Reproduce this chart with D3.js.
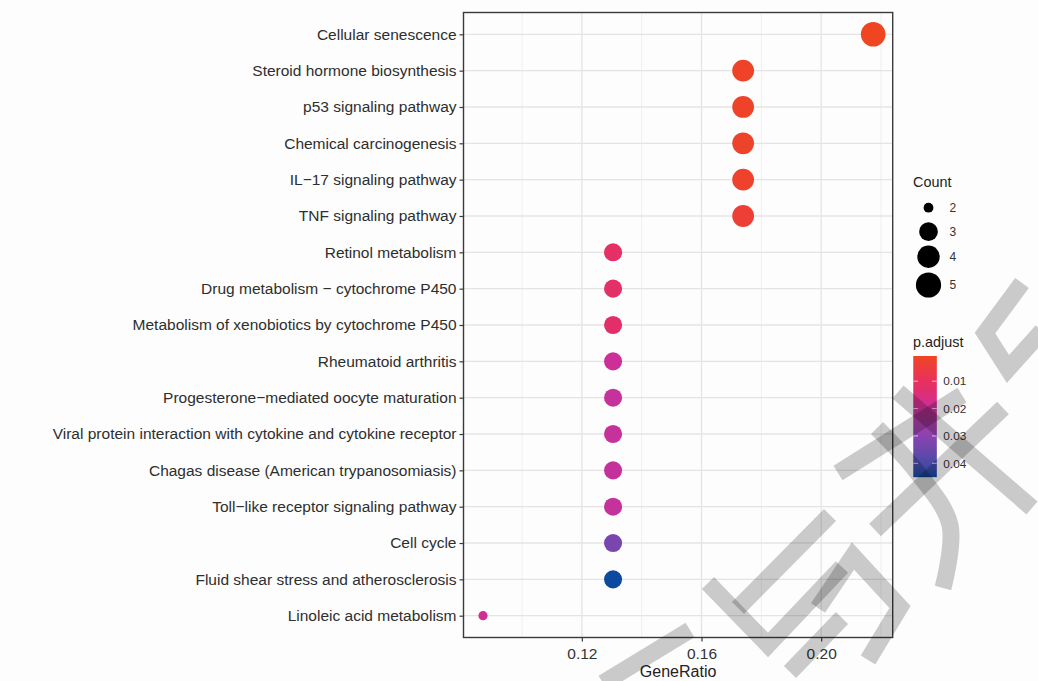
<!DOCTYPE html>
<html>
<head>
<meta charset="utf-8">
<script src="https://cdn.jsdelivr.net/npm/d3@7"></script>
<style>
  body { margin: 0; background: #fdfdfd; }
  svg { display: block; }
  text { font-family: "Liberation Sans", Arial, Helvetica, sans-serif; }
</style>
</head>
<body>
<svg id="chart" width="1038" height="681"></svg>
<script>
// KEGG enrichment results (top to bottom)
const pathways = [
  "Cellular senescence",
  "Steroid hormone biosynthesis",
  "p53 signaling pathway",
  "Chemical carcinogenesis",
  "IL\u221217 signaling pathway",
  "TNF signaling pathway",
  "Retinol metabolism",
  "Drug metabolism \u2212 cytochrome P450",
  "Metabolism of xenobiotics by cytochrome P450",
  "Rheumatoid arthritis",
  "Progesterone\u2212mediated oocyte maturation",
  "Viral protein interaction with cytokine and cytokine receptor",
  "Chagas disease (American trypanosomiasis)",
  "Toll\u2212like receptor signaling pathway",
  "Cell cycle",
  "Fluid shear stress and atherosclerosis",
  "Linoleic acid metabolism"
];
const geneCounts = [5, 4, 4, 4, 4, 4, 3, 3, 3, 3, 3, 3, 3, 3, 3, 3, 2];
const geneListSize = 23;
const pAdjust = [0.0008, 0.0018, 0.0018, 0.0020, 0.0022, 0.0035,
                 0.0115, 0.0118, 0.0122, 0.0195, 0.0205, 0.0205,
                 0.0208, 0.0210, 0.0330, 0.0450, 0.0185];

const xTickValues = [0.12, 0.16, 0.20];
const xMinorValues = [0.10, 0.14, 0.18, 0.22];
const countLegendValues = [2, 3, 4, 5];
const countLegendOffsets = [0, 24, 49, 77.3];
const pTickValues = [0.01, 0.02, 0.03, 0.04];

const geneRatio = geneCounts.map(c => c / geneListSize);
const rows = pathways.map((name, i) => ({
  name, count: geneCounts[i], ratio: geneRatio[i], p: pAdjust[i]
}));

const svg = d3.select("#chart");
const W = 1038, H = 681;
svg.append("rect").attr("width", W).attr("height", H).attr("fill", "#fdfdfd");

// panel geometry
const panel = { left: 463.5, right: 892.7, top: 12.5, bottom: 637.5 };

// x scale with 5% expansion on each side
const [rMin, rMax] = d3.extent(geneRatio);
const pad = (rMax - rMin) * 0.05;
const x = d3.scaleLinear().domain([rMin - pad, rMax + pad]).range([panel.left, panel.right]);
const y = d3.scalePoint().domain(pathways).range([panel.top, panel.bottom]).padding(0.6);

// size: diameter linear in sqrt of rescaled count
const [cMin, cMax] = d3.extent(geneCounts);
const radius = d3.scaleLinear().domain([0, 1]).range([4.6, 12.3]);
const rOf = c => radius(Math.sqrt((c - cMin) / (cMax - cMin)));

// colour: low p.adjust red, high p.adjust blue
const [pMin, pMax] = d3.extent(pAdjust);
const color = d3.scaleLinear()
  .domain([pMin, 0.01, 0.02, 0.03, pMax])
  .range(["#ef4521", "#e8305c", "#ca2f9a", "#8a43b0", "#0c4aa0"])
  .interpolate(d3.interpolateLab)
  .clamp(true);

// panel background and grid
const g = svg.append("g");
g.append("rect")
  .attr("x", panel.left).attr("y", panel.top)
  .attr("width", panel.right - panel.left).attr("height", panel.bottom - panel.top)
  .attr("fill", "#fdfdfd");

g.selectAll(".minor-x").data(xMinorValues).join("line")
  .attr("x1", d => x(d)).attr("x2", d => x(d))
  .attr("y1", panel.top).attr("y2", panel.bottom)
  .attr("stroke", "#ececec").attr("stroke-width", 0.8);
g.selectAll(".major-x").data(xTickValues).join("line")
  .attr("x1", d => x(d)).attr("x2", d => x(d))
  .attr("y1", panel.top).attr("y2", panel.bottom)
  .attr("stroke", "#e4e4e4").attr("stroke-width", 1.3);
g.selectAll(".major-y").data(pathways).join("line")
  .attr("x1", panel.left).attr("x2", panel.right)
  .attr("y1", d => y(d)).attr("y2", d => y(d))
  .attr("stroke", "#e4e4e4").attr("stroke-width", 1.3);

// points
g.selectAll(".dot").data(rows).join("circle")
  .attr("cx", d => x(d.ratio))
  .attr("cy", d => y(d.name))
  .attr("r", d => rOf(d.count))
  .attr("fill", d => color(d.p));

// panel border
g.append("rect")
  .attr("x", panel.left).attr("y", panel.top)
  .attr("width", panel.right - panel.left).attr("height", panel.bottom - panel.top)
  .attr("fill", "none").attr("stroke", "#3a3a3a").attr("stroke-width", 1.4);

// axes
const xAxis = d3.axisBottom(x).tickValues(xTickValues).tickFormat(d3.format(".2f"))
  .tickSize(4).tickPadding(4);
const xg = svg.append("g").attr("transform", `translate(0,${panel.bottom})`).call(xAxis);
xg.select(".domain").remove();
xg.selectAll("line").attr("stroke", "#3a3a3a").attr("stroke-width", 1.2);
xg.selectAll("text").attr("font-size", "15.5px").attr("fill", "#333")
  .attr("font-family", "Liberation Sans, Arial, sans-serif").attr("dy", "0.85em");

const yAxis = d3.axisLeft(y).tickSize(4).tickPadding(3);
const yg = svg.append("g").attr("transform", `translate(${panel.left},0)`).call(yAxis);
yg.select(".domain").remove();
yg.selectAll("line").attr("stroke", "#3a3a3a").attr("stroke-width", 1.2);
yg.selectAll("text").attr("font-size", "15.5px").attr("fill", "#2e2e2e")
  .attr("font-family", "Liberation Sans, Arial, sans-serif");

svg.append("text")
  .attr("x", (panel.left + panel.right) / 2).attr("y", 677)
  .attr("text-anchor", "middle").attr("font-size", "16px").attr("fill", "#222")
  .text("GeneRatio");

// size legend
const lg = svg.append("g");
lg.append("text").attr("x", 913).attr("y", 186.5)
  .attr("font-size", "14.4px").attr("fill", "#222").text("Count");
const legendTop = 207.7;
const keys = lg.selectAll(".key").data(countLegendValues).join("g")
  .attr("transform", (d, i) => `translate(928.5,${legendTop + countLegendOffsets[i]})`);
keys.append("circle").attr("r", d => rOf(d) + 0.3).attr("fill", "#000");
keys.append("text").attr("x", 21).attr("dy", "0.36em")
  .attr("font-size", "12px").attr("fill", "#333").text(d => d);

// colour bar legend
const cb = { x: 913.3, y: 356, w: 23.5, h: 121 };
const cbScale = d3.scaleLinear().domain([pMin, pMax]).range([cb.y, cb.y + cb.h]);
lg.append("text").attr("x", 913).attr("y", 346.5)
  .attr("font-size", "14.4px").attr("fill", "#222").text("p.adjust");
const bands = d3.range(0, cb.h, 1);
lg.selectAll(".band").data(bands).join("rect")
  .attr("x", cb.x).attr("y", d => cb.y + d)
  .attr("width", cb.w).attr("height", 1.2)
  .attr("fill", d => color(cbScale.invert(cb.y + d + 0.5)));
lg.selectAll(".tickL").data(pTickValues).join("line")
  .attr("x1", cb.x).attr("x2", cb.x + 4.7)
  .attr("y1", d => cbScale(d)).attr("y2", d => cbScale(d))
  .attr("stroke", "#fff").attr("stroke-opacity", 0.7).attr("stroke-width", 1);
lg.selectAll(".tickR").data(pTickValues).join("line")
  .attr("x1", cb.x + cb.w - 4.7).attr("x2", cb.x + cb.w)
  .attr("y1", d => cbScale(d)).attr("y2", d => cbScale(d))
  .attr("stroke", "#fff").attr("stroke-opacity", 0.7).attr("stroke-width", 1);
lg.selectAll(".plabel").data(pTickValues).join("text")
  .attr("x", cb.x + cb.w + 6.5).attr("y", d => cbScale(d)).attr("dy", "0.36em")
  .attr("font-size", "11.8px").attr("fill", "#333").text(d => d3.format(".2f")(d));

// translucent grey stamp strokes across the lower right
const stampStrokes = [
  [[1022, 283], [985, 333], [1008, 369], [1042, 331]],
  [[838, 473], [962, 395]],
  [[875, 530], [1003, 408]],
  [[898, 392], [1032, 508]],
  [[877, 428], [917, 472], [950, 525], [943, 588]],
  [[818, 608], [853, 556], [900, 607], [868, 660]],
  [[708, 583], [768, 645], [842, 567]],
  [[790, 672], [842, 618]],
  [[603, 683], [690, 630]],
  [[738, 608], [830, 515]]
];
const stampLine = d3.line().curve(d3.curveLinear);
svg.append("g").selectAll("path").data(stampStrokes).join("path")
  .attr("d", (d, i) => i === 4 ? d3.line().curve(d3.curveCatmullRom)(d) : stampLine(d))
  .attr("fill", "none").attr("stroke", "#000").attr("stroke-opacity", 0.2)
  .attr("stroke-width", 17).attr("stroke-linejoin", "miter");
</script>
</body>
</html>
